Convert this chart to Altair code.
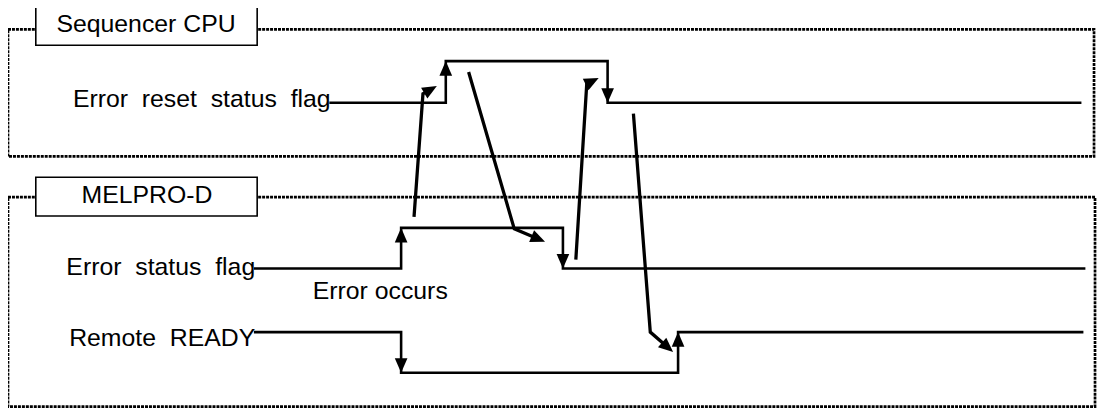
import math
import altair as alt
import pandas as pd

# ---- signal waveforms (image pixel coordinates) ----
reset_x = [333, 449, 449, 612, 612, 1088]
reset_y = [102, 102, 60, 60, 102, 102]
status_x = [257, 404, 404, 567, 567, 1092]
status_y = [269, 269, 228, 228, 269, 269]
ready_x = [257, 404, 404, 683, 683, 1090]
ready_y = [333, 333, 374, 374, 333, 333]

# arrowheads on signal edges (tip position, direction)
edge_x = [449, 612, 404, 567, 404, 683]
edge_y = [60, 102, 228, 269, 374, 333]
edge_dir = ["up", "down", "up", "down", "down", "up"]

# causal arrows (polyline, last point = arrow tip)
arrow1_x = [417, 426, 440]
arrow1_y = [217, 93, 85]
arrow2_x = [472, 518, 549]
arrow2_y = [71, 229, 242]
arrow3_x = [580, 591, 603]
arrow3_y = [260, 83, 77]
arrow4_x = [638, 655, 678]
arrow4_y = [113, 333, 353]

# dashed group frames
frame_x = [8, 8]
frame_x2 = [1102, 1103]
frame_y = [28, 197]
frame_y2 = [156, 408]

# group title boxes
title_text = ["Sequencer CPU", "MELPRO-D"]
title_x = [36, 36]
title_x2 = [259, 259]
title_y = [5, 177]
title_y2 = [44, 216]
title_tx = [147, 148]
title_ty = [31, 203]

# signal labels (right aligned)
NB = "\u00a0"
sig_text = [f"Error{NB} reset{NB} status{NB} flag", f"Error{NB} status{NB} flag", f"Remote{NB} READY"]
sig_tx = [333, 257, 257]
sig_ty = [106, 275, 347]

# annotation
note_text = ["Error occurs"]
note_tx = [383]
note_ty = [300]

# ---- build tables ----
sig_rows = []
for name, xs_, ys_ in [("reset", reset_x, reset_y), ("status", status_x, status_y), ("ready", ready_x, ready_y)]:
    for i, (a, b) in enumerate(zip(xs_, ys_)):
        sig_rows.append({"id": name, "o": i, "x": a, "y": b})
sig_df = pd.DataFrame(sig_rows)

head_rows = []
for a, b, d in zip(edge_x, edge_y, edge_dir):
    head_rows.append({"x": a, "y": b, "angle": 0 if d == "up" else 180})

arr_rows = []
for k, (xs_, ys_) in enumerate([(arrow1_x, arrow1_y), (arrow2_x, arrow2_y), (arrow3_x, arrow3_y), (arrow4_x, arrow4_y)]):
    dx = xs_[-1] - xs_[-2]
    dy = ys_[-1] - ys_[-2]
    L = math.hypot(dx, dy)
    ang = math.degrees(math.atan2(dx, -dy)) % 360
    head_rows.append({"x": xs_[-1], "y": ys_[-1], "angle": ang})
    px = list(xs_)
    py = list(ys_)
    px[-1] = xs_[-1] - dx / L * 8
    py[-1] = ys_[-1] - dy / L * 8
    for i, (a, b) in enumerate(zip(px, py)):
        arr_rows.append({"id": f"a{k}", "o": i, "x": a, "y": b})
arr_df = pd.DataFrame(arr_rows)
head_df = pd.DataFrame(head_rows)

frame_df = pd.DataFrame({"x": frame_x, "x2": frame_x2, "y": frame_y, "y2": frame_y2})
title_df = pd.DataFrame({"x": title_x, "x2": title_x2, "y": title_y, "y2": title_y2,
                         "tx": title_tx, "ty": title_ty, "t": title_text})
sig_lab_df = pd.DataFrame({"tx": sig_tx, "ty": sig_ty, "t": sig_text})
note_df = pd.DataFrame({"tx": note_tx, "ty": note_ty, "t": note_text})

W, H = 1098, 402
xsc = alt.Scale(domain=[8, 8 + W], nice=False, zero=False)
ysc = alt.Scale(domain=[8, 8 + H], nice=False, zero=False, reverse=True)
FONT = "Liberation Sans"
FS = 25

frames = alt.Chart(frame_df).mark_rect(
    fill="white", fillOpacity=0, stroke="black", strokeWidth=2.7, strokeDash=[3, 1]
).encode(
    x=alt.X("x:Q", scale=xsc, axis=None), x2="x2:Q",
    y=alt.Y("y:Q", scale=ysc, axis=None), y2="y2:Q",
)

tboxes = alt.Chart(title_df).mark_rect(
    fill="white", stroke="black", strokeWidth=1.6
).encode(
    x=alt.X("x:Q", scale=xsc, axis=None), x2="x2:Q",
    y=alt.Y("y:Q", scale=ysc, axis=None), y2="y2:Q",
)

ttext = alt.Chart(title_df).mark_text(
    font=FONT, fontSize=FS, align="center", baseline="alphabetic", color="black"
).encode(
    x=alt.X("tx:Q", scale=xsc, axis=None), y=alt.Y("ty:Q", scale=ysc, axis=None), text="t:N"
)

stext = alt.Chart(sig_lab_df).mark_text(
    font=FONT, fontSize=FS, align="right", baseline="alphabetic", color="black"
).encode(
    x=alt.X("tx:Q", scale=xsc, axis=None), y=alt.Y("ty:Q", scale=ysc, axis=None), text="t:N"
)

ntext = alt.Chart(note_df).mark_text(
    font=FONT, fontSize=FS, align="center", baseline="alphabetic", color="black"
).encode(
    x=alt.X("tx:Q", scale=xsc, axis=None), y=alt.Y("ty:Q", scale=ysc, axis=None), text="t:N"
)

signals = alt.Chart(sig_df).mark_line(
    color="black", strokeWidth=2.6, strokeCap="square", strokeJoin="miter"
).encode(
    x=alt.X("x:Q", scale=xsc, axis=None), y=alt.Y("y:Q", scale=ysc, axis=None),
    detail="id:N", order="o:Q",
)

arrows = alt.Chart(arr_df).mark_line(
    color="black", strokeWidth=3.3, strokeCap="butt", strokeJoin="miter"
).encode(
    x=alt.X("x:Q", scale=xsc, axis=None), y=alt.Y("y:Q", scale=ysc, axis=None),
    detail="id:N", order="o:Q",
)

heads = alt.Chart(head_df).mark_point(
    shape="M0,0L-0.5,1.15L0.5,1.15Z", filled=True, color="black", opacity=1, strokeWidth=0
).encode(
    x=alt.X("x:Q", scale=xsc, axis=None), y=alt.Y("y:Q", scale=ysc, axis=None),
    angle=alt.Angle("angle:Q", scale=None),
    size=alt.value(650),
)

chart = alt.layer(frames, tboxes, ttext, stext, ntext, signals, arrows, heads).properties(
    width=W, height=H, padding=0, autosize=alt.AutoSizeParams(type="none"),
    background="white",
).configure_view(strokeWidth=0)

chart.save("out.html", embed_options={"renderer": "svg", "actions": False})
